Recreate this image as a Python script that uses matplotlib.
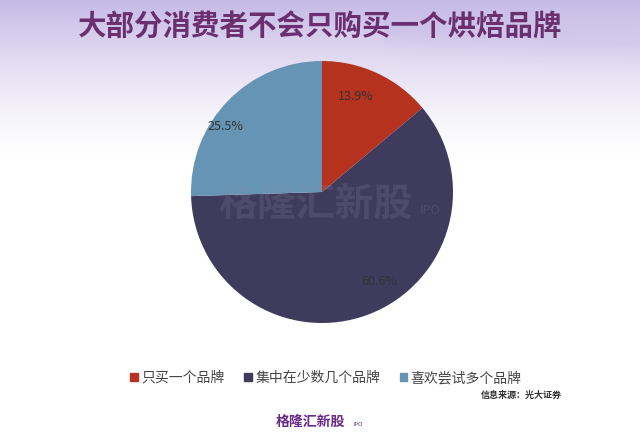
import matplotlib.pyplot as plt
import numpy as np

plt.rcParams['font.family'] = ['Noto Sans CJK SC', 'DejaVu Sans']

labels = ['只买一个品牌', '集中在少数几个品牌', '喜欢尝试多个品牌']
shares = [13.9, 60.6, 25.5]
colors = ['#b5321e', '#3f3b5c', '#6594b5']

W, H = 640, 443
fig = plt.figure(figsize=(W / 100, H / 100), dpi=100)

# background: lavender at top fading to white
bg = fig.add_axes([0, 0, 1, 1])
yy = np.linspace(0, 1, H)[:, None]
xx = np.linspace(0, 1, W)[None, :]
t = np.clip(1 - yy / 0.36, 0, 1) ** 1.4
t = t + 0.12 * np.clip(1 - np.abs(yy - (0.02 + 0.08 * xx)) / 0.06, 0, 1) * (xx > 0.6)
t = np.clip(t, 0, 1)
top = np.array([198, 186, 230]) / 255
img = 1 - t[..., None] * (1 - top)
bg.imshow(img, aspect='auto', extent=[0, 1, 0, 1], origin='upper')
bg.set_xlim(0, 1)
bg.set_ylim(0, 1)
bg.axis('off')

fig.text(0.5, 1 - 28 / H, '大部分消费者不会只购买一个烘焙品牌', ha='center', va='center',
         fontsize=20.5, fontweight='bold', color='#6b2f70')

ax = fig.add_axes([191 / W, (H - 323) / H, 262 / W, 262 / H])
wedges, texts, autotexts = ax.pie(shares, colors=colors, startangle=90, counterclock=False,
                                  autopct='%.1f%%', pctdistance=0.78, radius=1,
                                  textprops={'fontsize': 9, 'color': '#333333'},
                                  wedgeprops={'linewidth': 0})
# label placement as in the source chart
for txt, pos in zip(autotexts, [(0.26, 0.73), (0.44, -0.68), (-0.74, 0.5)]):
    txt.set_position(pos)
ax.set_xlim(-1, 1)
ax.set_ylim(-1, 1)
ax.set_aspect('equal')

# faint watermark
fig.text(315 / W, 1 - 204 / H, '格隆汇新股', ha='center', va='center', fontsize=28,
         fontweight='bold', style='italic', color='#8a8aa8', alpha=0.2)
fig.text(420 / W, 1 - 210 / H, 'IPO', ha='left', va='center', fontsize=9,
         style='italic', color='#8a8aa8', alpha=0.2)

handles = [plt.Rectangle((0, 0), 1, 1, color=c) for c in colors]
fig.legend(handles, labels, loc='center', bbox_to_anchor=(326 / W, 1 - 378 / H), ncol=3,
           frameon=False, fontsize=10, handlelength=0.55, handleheight=0.55,
           handletextpad=0.25, columnspacing=1.4, labelcolor='#444444')

fig.text(562 / W, 1 - 395 / H, '信息来源：光大证券', ha='right', va='center',
         fontsize=6.5, fontweight='bold', color='#333333')

fig.text(310 / W, 1 - 422 / H, '格隆汇新股', ha='center', va='center', fontsize=10,
         fontweight='bold', style='italic', color='#6a2a8a')
fig.text(353 / W, 1 - 425 / H, 'IPO', ha='left', va='center', fontsize=4, color='#6a2a8a')

fig.savefig('out.png', dpi=100)
